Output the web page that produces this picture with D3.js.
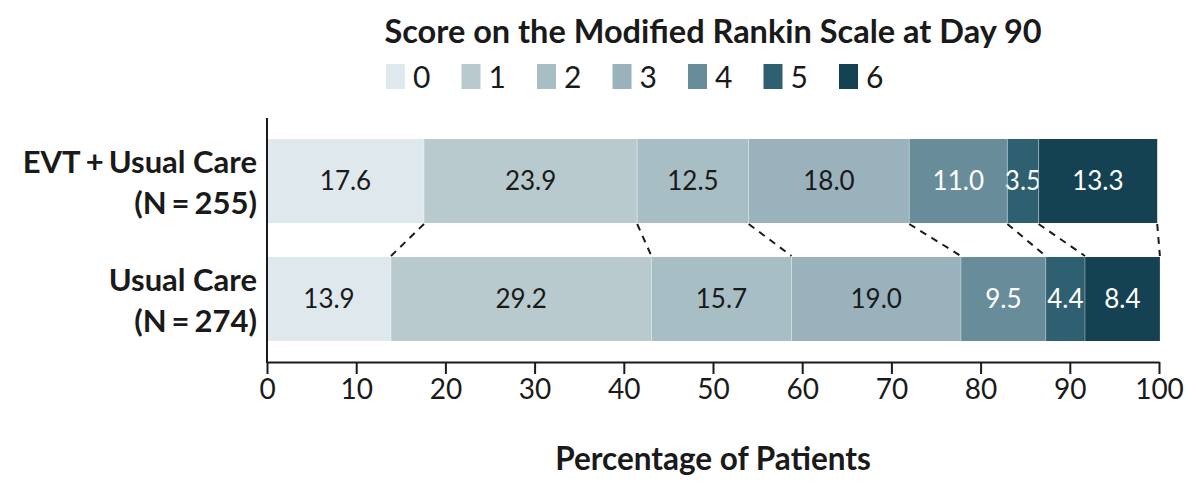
<!DOCTYPE html>
<html><head><meta charset="utf-8">
<script src="https://cdn.jsdelivr.net/npm/d3@7/dist/d3.min.js"></script>
<style>body{margin:0;background:#fff}svg{display:block}</style>
</head><body>
<svg id="c" width="1196" height="492"></svg>
<script>
const scores = ["0","1","2","3","4","5","6"];
const colors = ["#dfe8ec","#b9cacf","#a8bec5","#99b2bc","#698c9a","#2e6071","#154253"];
const textColors = ["#1a1a1a","#1a1a1a","#1a1a1a","#1a1a1a","#ffffff","#ffffff","#ffffff"];
const groups = ["EVT+Usual Care","Usual Care"];
const groupN = ["(N=255)","(N=274)"];
const evtValues = [17.6,23.9,12.5,18.0,11.0,3.5,13.3];
const usualValues = [13.9,29.2,15.7,19.0,9.5,4.4,8.4];
const xTicks = [0,10,20,30,40,50,60,70,80,90,100];
const titleText = "Score on the Modified Rankin Scale at Day 90";
const xLabel = "Percentage of Patients";

const svg = d3.select("#c");
const font = "Lato, 'Open Sans', sans-serif";
const x = d3.scaleLinear().domain([0,100]).range([267,1159]);
const y = d3.scaleBand().domain(groups).range([139,341]).paddingInner(0.288).paddingOuter(0);

const data = [evtValues, usualValues];
const stacks = data.map(vals => {
  let c = 0;
  return vals.map((v,i) => { const s = c; c += v; return {i, v, x0:s, x1:c}; });
});

// title
svg.append("text").attr("x",713).attr("y",43).attr("text-anchor","middle")
  .attr("font-family",font).attr("font-weight",700).attr("font-size",32.5).attr("fill","#1a1a1a").text(titleText);

// legend
const lg = svg.append("g");
scores.forEach((s,i) => {
  const lx = 386 + i*75.5;
  lg.append("rect").attr("x",lx).attr("y",64).attr("width",19).attr("height",25).attr("fill",colors[i]);
  lg.append("text").attr("x",lx+27).attr("y",88).attr("font-family",font).attr("font-size",30)
    .attr("fill","#1a1a1a").text(s);
});

// label with a little extra room round + and =
function spacedLabel(t, xx, yy) {
  const el = svg.append("text").attr("x",xx).attr("y",yy).attr("text-anchor","end")
    .attr("font-family",font).attr("font-weight",700).attr("font-size",31).attr("fill","#1a1a1a");
  const parts = t.split(/([+=])/);
  let extra = false;
  parts.forEach(p => {
    if (p === "") return;
    const ts = el.append("tspan").text(p);
    if (p === "+" || p === "=") { ts.attr("dx",5); extra = true; }
    else if (extra) { ts.attr("dx",5); extra = false; }
  });
}

// bars
groups.forEach((g,gi) => {
  const gg = svg.append("g");
  stacks[gi].forEach(d => {
    gg.append("rect").attr("x",x(d.x0)).attr("y",y(g)).attr("width",x(d.x1)-x(d.x0)).attr("height",y.bandwidth())
      .attr("fill",colors[d.i]);
    gg.append("text").attr("x",(x(d.x0)+x(d.x1))/2).attr("y",y(g)+y.bandwidth()/2+9)
      .attr("text-anchor","middle").attr("font-family",font).attr("font-size",26)
      .attr("fill",textColors[d.i]).text(d.v.toFixed(1));
  });
  stacks[gi].slice(1).forEach(d => {
    gg.append("line").attr("x1",x(d.x0)).attr("x2",x(d.x0)).attr("y1",y(g)).attr("y2",y(g)+y.bandwidth())
      .attr("stroke","#ffffff").attr("stroke-opacity",0.35).attr("stroke-width",1);
  });
  const cy = y(g)+y.bandwidth()/2;
  spacedLabel(groups[gi], 257, cy-8);
  spacedLabel(groupN[gi], 257, cy+33);
});

// connectors
const yTopB = y(groups[0]) + y.bandwidth();
const yBotT = y(groups[1]);
stacks[0].forEach((d,k) => {
  svg.append("line").attr("x1",x(d.x1)).attr("y1",yTopB+1).attr("x2",x(stacks[1][k].x1)).attr("y2",yBotT-1)
    .attr("stroke","#1a1a1a").attr("stroke-width",2).attr("stroke-dasharray","7,6");
});

// axes
const xa = svg.append("g").attr("transform","translate(0,362)")
  .call(d3.axisBottom(x).tickValues(xTicks).tickSize(12).tickSizeOuter(0).tickPadding(5));
xa.select(".domain").attr("stroke","#1a1a1a").attr("stroke-width",2);
xa.selectAll(".tick line").attr("stroke","#1a1a1a").attr("stroke-width",2);
xa.selectAll(".tick text").attr("font-family",font).attr("font-size",28).attr("fill","#1a1a1a");

svg.append("line").attr("x1",267).attr("x2",267).attr("y1",118).attr("y2",363)
  .attr("stroke","#1a1a1a").attr("stroke-width",2);

svg.append("text").attr("x",713).attr("y",470).attr("text-anchor","middle")
  .attr("font-family",font).attr("font-weight",700).attr("font-size",31.5).attr("fill","#1a1a1a").text(xLabel);
</script>
</body></html>
